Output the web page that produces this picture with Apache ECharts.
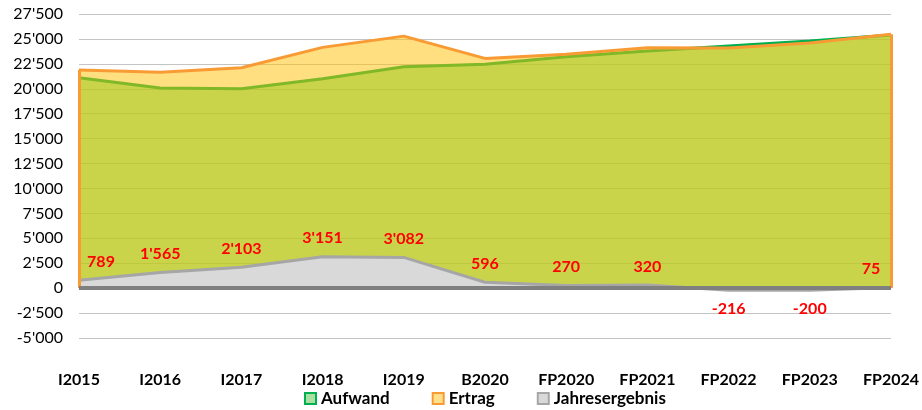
<!DOCTYPE html>
<html>
<head>
<meta charset="utf-8">
<script src="https://cdn.jsdelivr.net/npm/echarts@6/dist/echarts.min.js"></script>
<style>
  html, body { margin: 0; padding: 0; background: #fff; }
  #chart { width: 922px; height: 410px; }
</style>
</head>
<body>
<div id="chart"></div>
<script>
const categories = ["I2015", "I2016", "I2017", "I2018", "I2019", "B2020", "FP2020", "FP2021", "FP2022", "FP2023", "FP2024"];
const aufwand = [21100, 20085, 20000, 21000, 22200, 22450, 23200, 23800, 24300, 24800, 25400];
const ertrag = [21889, 21650, 22103, 24151, 25282, 23046, 23470, 24120, 24084, 24600, 25475];
const jahresergebnis = [789, 1565, 2103, 3151, 3082, 596, 270, 320, -216, -200, 75];

const FONT = "Lato";

// 27500 -> 27'500
const fmt = (v) => String(v).replace(/\B(?=(\d{3})+(?!\d))/g, "'");

const chart = echarts.init(document.getElementById("chart"));

const last = categories.length - 1;
const resultData = jahresergebnis.map((v, i) => ({
  value: v,
  label: {
    position: v < 0 ? "bottom" : "top",
    offset: i === 0 ? [22, 0] : i === last ? [-20, 0] : [0, 0],
  },
}));

const option = {
  animation: false,
  textStyle: { fontFamily: FONT },
  grid: { left: 79, right: 29, top: 14, bottom: 72 },
  legend: {
    left: 299,
    top: 385,
    itemWidth: 11,
    itemHeight: 11,
    itemGap: 42,
    icon: "rect",
    textStyle: { fontFamily: FONT, fontSize: 17, fontWeight: "bold", color: "#000" },
    data: [
      { name: "Aufwand", itemStyle: { color: "#A9DFA0", borderColor: "#00B050", borderWidth: 2 } },
      { name: "Ertrag", itemStyle: { color: "#FFE08A", borderColor: "#F99B35", borderWidth: 2 } },
      { name: "Jahresergebnis", itemStyle: { color: "#D9D9D9", borderColor: "#A6A6A6", borderWidth: 2 } },
    ],
  },
  xAxis: {
    type: "category",
    data: categories,
    boundaryGap: false,
    axisLine: { show: false, onZero: false },
    axisTick: { show: false },
    axisLabel: {
      margin: 34,
      fontFamily: FONT,
      fontSize: 16,
      fontWeight: "bold",
      color: "#000",
    },
  },
  yAxis: {
    type: "value",
    min: -5000,
    max: 27500,
    interval: 2500,
    axisLine: { show: false },
    axisTick: { show: false },
    axisLabel: {
      margin: 16,
      fontFamily: FONT,
      fontSize: 16,
      color: "#000",
      formatter: fmt,
    },
    splitLine: { lineStyle: { color: "#C4C4C4", width: 1 } },
  },
  series: [
    {
      name: "Aufwand",
      type: "line",
      z: 1,
      data: aufwand,
      symbol: "none",
      lineStyle: { color: "#00B050", width: 3 },
      itemStyle: { color: "#00B050" },
      areaStyle: { color: "rgba(75,217,80,0.6)", origin: 0, opacity: 1 },
    },
    {
      name: "Ertrag",
      type: "line",
      z: 2,
      data: ertrag,
      symbol: "none",
      lineStyle: { color: "#F99B35", width: 3 },
      itemStyle: { color: "#F99B35" },
      areaStyle: { color: "rgba(255,192,0,0.5)", origin: 0, opacity: 1 },
      markLine: {
        silent: true,
        symbol: "none",
        label: { show: false },
        lineStyle: { color: "#F99B35", width: 3, type: "solid" },
        data: [
          [{ coord: [categories[0], 0] }, { coord: [categories[0], ertrag[0]] }],
          [{ coord: [categories[last], 0] }, { coord: [categories[last], ertrag[last]] }],
        ],
      },
    },
    {
      name: "Jahresergebnis",
      type: "line",
      z: 3,
      data: resultData,
      symbol: "circle",
      symbolSize: 1,
      showSymbol: true,
      lineStyle: { color: "#A6A6A6", width: 3 },
      itemStyle: { color: "#A6A6A6" },
      areaStyle: { color: "#D9D9D9", origin: 0, opacity: 1 },
      label: {
        show: true,
        distance: 10,
        fontFamily: FONT,
        fontSize: 16,
        fontWeight: "bold",
        color: "#FF0000",
        formatter: (p) => fmt(p.value),
      },
      markLine: {
        silent: true,
        z: 10,
        symbol: "none",
        label: { show: false },
        lineStyle: { color: "#7F7F7F", width: 4, type: "solid", opacity: 1 },
        data: [
          [{ coord: [categories[0], 0] }, { coord: [categories[last], 0] }],
        ],
      },
    },
  ],
};

chart.setOption(option);
window.addEventListener("resize", () => chart.resize());
</script>
</body>
</html>
